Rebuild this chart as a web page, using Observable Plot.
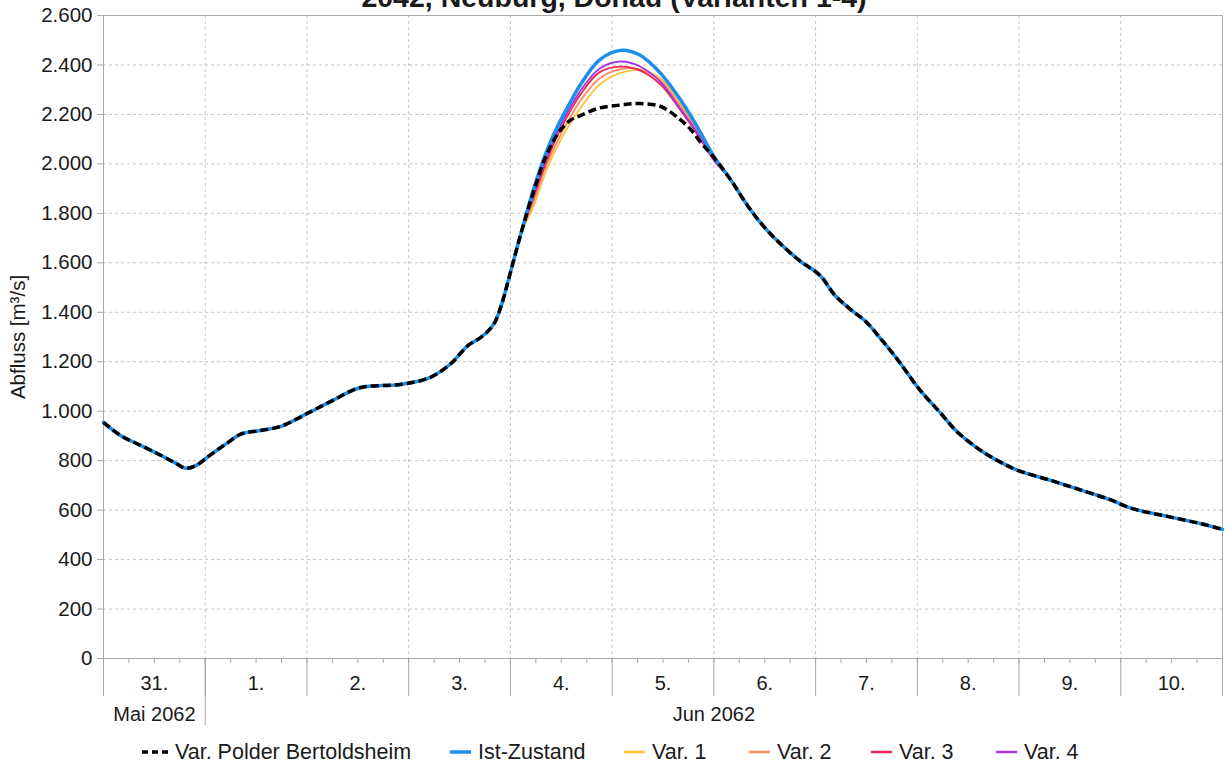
<!DOCTYPE html>
<html><head><meta charset="utf-8">
<script src="https://cdn.jsdelivr.net/npm/d3@7"></script>
<script src="https://cdn.jsdelivr.net/npm/@observablehq/plot@0.6"></script>
<style>
html,body{margin:0;padding:0;background:#fff;overflow:hidden}
#wrap{position:relative;width:1229px;height:769px;font-family:"Liberation Sans",Arial,sans-serif;color:#1a1a1a}
#legend{position:absolute;top:740px;left:0;width:1229px;height:26px;font-size:21.5px;line-height:24px}
#legend .it{position:absolute;top:0;display:flex;align-items:center;gap:7px;white-space:nowrap}
</style></head>
<body><div id="wrap"><div id="chart"></div><div id="legend"></div></div>
<script>
// ---- data (hours since 31 May 2062 00:00, discharge in m³/s) ----
const titleText = "2042, Neuburg, Donau (Varianten 1-4)";
const yLabel = "Abfluss [m³/s]";
const yTicks = [0,200,400,600,800,1000,1200,1400,1600,1800,2000,2200,2400,2600];
const dayLabels = ["31.","1.","2.","3.","4.","5.","6.","7.","8.","9.","10."];
const monthLabels = ["Mai 2062","Jun 2062"];
const monthMidHours = [12, 144];

// shared rising limb
const riseHours = [0, 4, 9, 13.5, 17, 19.5, 22, 24.5, 27, 29.5, 32.5, 37, 42, 48, 54, 60.5, 70, 77, 82, 86, 89, 92, 94, 95.5, 98.5];
const riseFlow  = [955, 902, 860, 822, 790, 769, 782, 814, 845, 875, 908, 922, 940, 990, 1043, 1095, 1108, 1136, 1193, 1266, 1298, 1350, 1436, 1529, 1719];

// peak section per series
const peakHours   = [101.5, 104.5, 107.5, 110, 112.5, 117, 122, 126.5, 131.5, 136, 138.5, 141, 144];
const istFlow     = [1900, 2050, 2165, 2245, 2320, 2420, 2459, 2440, 2365, 2262, 2196, 2122, 2030];
const var1Flow    = [1830, 1975, 2085, 2160, 2225, 2320, 2368, 2378, 2345, 2245, 2185, 2115, 2025];
const var2Flow    = [1850, 1995, 2105, 2185, 2255, 2345, 2383, 2382, 2335, 2235, 2175, 2105, 2020];
const var3Flow    = [1865, 2010, 2130, 2210, 2280, 2370, 2393, 2378, 2320, 2220, 2160, 2095, 2015];
const var4Flow    = [1875, 2025, 2145, 2225, 2295, 2385, 2414, 2395, 2330, 2225, 2165, 2100, 2018];
const polderFlow  = [1890, 2035, 2130, 2175, 2195, 2226, 2238, 2244, 2232, 2180, 2140, 2085, 2026];

// shared falling limb
const fallHours = [148, 152, 156, 160, 164.5, 169, 172.5, 176, 180, 183.5, 187.5, 192.5, 197.5, 201.5, 207.5, 211.5, 215.5, 223.5, 231, 237.5, 241.5, 244.5, 249.5, 255, 259, 264];
const fallFlow  = [1935, 1830, 1742, 1672, 1605, 1550, 1470, 1415, 1360, 1290, 1205, 1088, 992, 915, 835, 795, 762, 720, 679, 642, 613, 598, 580, 560, 545, 522];

const seriesNames  = ["Var. Polder Bertoldsheim","Ist-Zustand","Var. 1","Var. 2","Var. 3","Var. 4"];
const seriesColors = ["#000000","#1a8fec","#ffc23f","#ff8a5c","#ee2456","#a336e0"];
const seriesPeaks  = [polderFlow, istFlow, var1Flow, var2Flow, var3Flow, var4Flow];
const legendLeft   = [142, 450, 624, 749, 871, 996];

// ---- build table ----
const t0 = Date.UTC(2062,4,31);
const toDate = h => new Date(t0 + h*3600e3);
const hoursAll = [...riseHours, ...peakHours, ...fallHours];
const rows = [];
seriesNames.forEach((name, si) => {
  const flows = [...riseFlow, ...seriesPeaks[si], ...fallFlow];
  hoursAll.forEach((h, i) => rows.push({series: name, date: toDate(h), flow: flows[i]}));
});
const dayBounds = d3.range(0, 265, 24).map(toDate);
const minorTicks = d3.range(0, 265, 6).map(toDate);
const dayMids = dayLabels.map((l, i) => ({date: toDate(12 + 24*i), label: l}));
const monthMids = monthLabels.map((l, i) => ({date: toDate(monthMidHours[i]), label: l}));
const fmt = d3.formatLocale({decimal: ",", thousands: ".", grouping: [3], currency: ["", "€"]}).format(",");

const lineMark = (name, opts) => Plot.line(rows.filter(r => r.series === name),
  {x: "date", y: "flow", curve: "catmull-rom", stroke: seriesColors[seriesNames.indexOf(name)], ...opts});

const gray = "#a8a8a8";
const chart = Plot.plot({
  width: 1229, height: 730,
  marginLeft: 103, marginRight: 7, marginTop: 15, marginBottom: 72,
  style: {fontFamily: '"Liberation Sans", Arial, sans-serif', fontSize: "20px", color: "#1a1a1a", background: "#fff"},
  x: {type: "utc", domain: [toDate(0), toDate(264)]},
  y: {domain: [0, 2600]},
  marks: [
    Plot.gridY(yTicks, {stroke: "#c4c4c4", strokeOpacity: 1, strokeDasharray: "3,3"}),
    Plot.gridX(dayBounds.slice(1, -1), {stroke: "#c4c4c4", strokeOpacity: 1, strokeDasharray: "3,3"}),
    Plot.frame({stroke: gray}),
    Plot.axisY(yTicks, {tickFormat: fmt, tickSize: 6, tickPadding: 5, stroke: gray, fontSize: 20.5,
      label: yLabel, labelAnchor: "center", labelArrow: "none", labelOffset: 93}),
    Plot.axisX(minorTicks, {tickSize: 5, tickFormat: () => "", stroke: gray, label: null}),
    Plot.axisX(dayBounds, {tickSize: 38, tickFormat: () => "", stroke: gray, label: null}),
    Plot.axisX([toDate(24)], {tickSize: 67, tickFormat: () => "", stroke: gray, label: null}),
    Plot.text(dayMids, {x: "date", text: "label", frameAnchor: "bottom", dy: 31, fontSize: 20}),
    Plot.text(monthMids, {x: "date", text: "label", frameAnchor: "bottom", dy: 62, fontSize: 20}),
    Plot.text([titleText], {text: d => d, frameAnchor: "top", lineAnchor: "bottom", dy: -9, dx: -49, fontSize: 28.5, fontWeight: "bold"}),
    lineMark("Var. 1", {strokeWidth: 1.8}),
    lineMark("Var. 2", {strokeWidth: 1.8}),
    lineMark("Var. 3", {strokeWidth: 1.8}),
    lineMark("Var. 4", {strokeWidth: 1.8}),
    lineMark("Ist-Zustand", {strokeWidth: 3.5}),
    lineMark("Var. Polder Bertoldsheim", {strokeWidth: 3.5, strokeDasharray: "8,4", strokeLinecap: "butt"})
  ]
});
document.getElementById("chart").appendChild(chart);

// ---- legend ----
const leg = document.getElementById("legend");
seriesNames.forEach((name, i) => {
  const it = document.createElement("div"); it.className = "it";
  it.style.left = legendLeft[i] + "px";
  const w = i === 0 ? 26 : 21;
  const dash = i === 0 ? ' stroke-dasharray="6,4"' : '';
  it.innerHTML = `<svg width="${w}" height="6"><line x1="0" y1="3" x2="${w}" y2="3" stroke="${seriesColors[i]}" stroke-width="${i < 2 ? 3.5 : 2.5}"${dash}/></svg><span>${name}</span>`;
  leg.appendChild(it);
});
</script></body></html>
